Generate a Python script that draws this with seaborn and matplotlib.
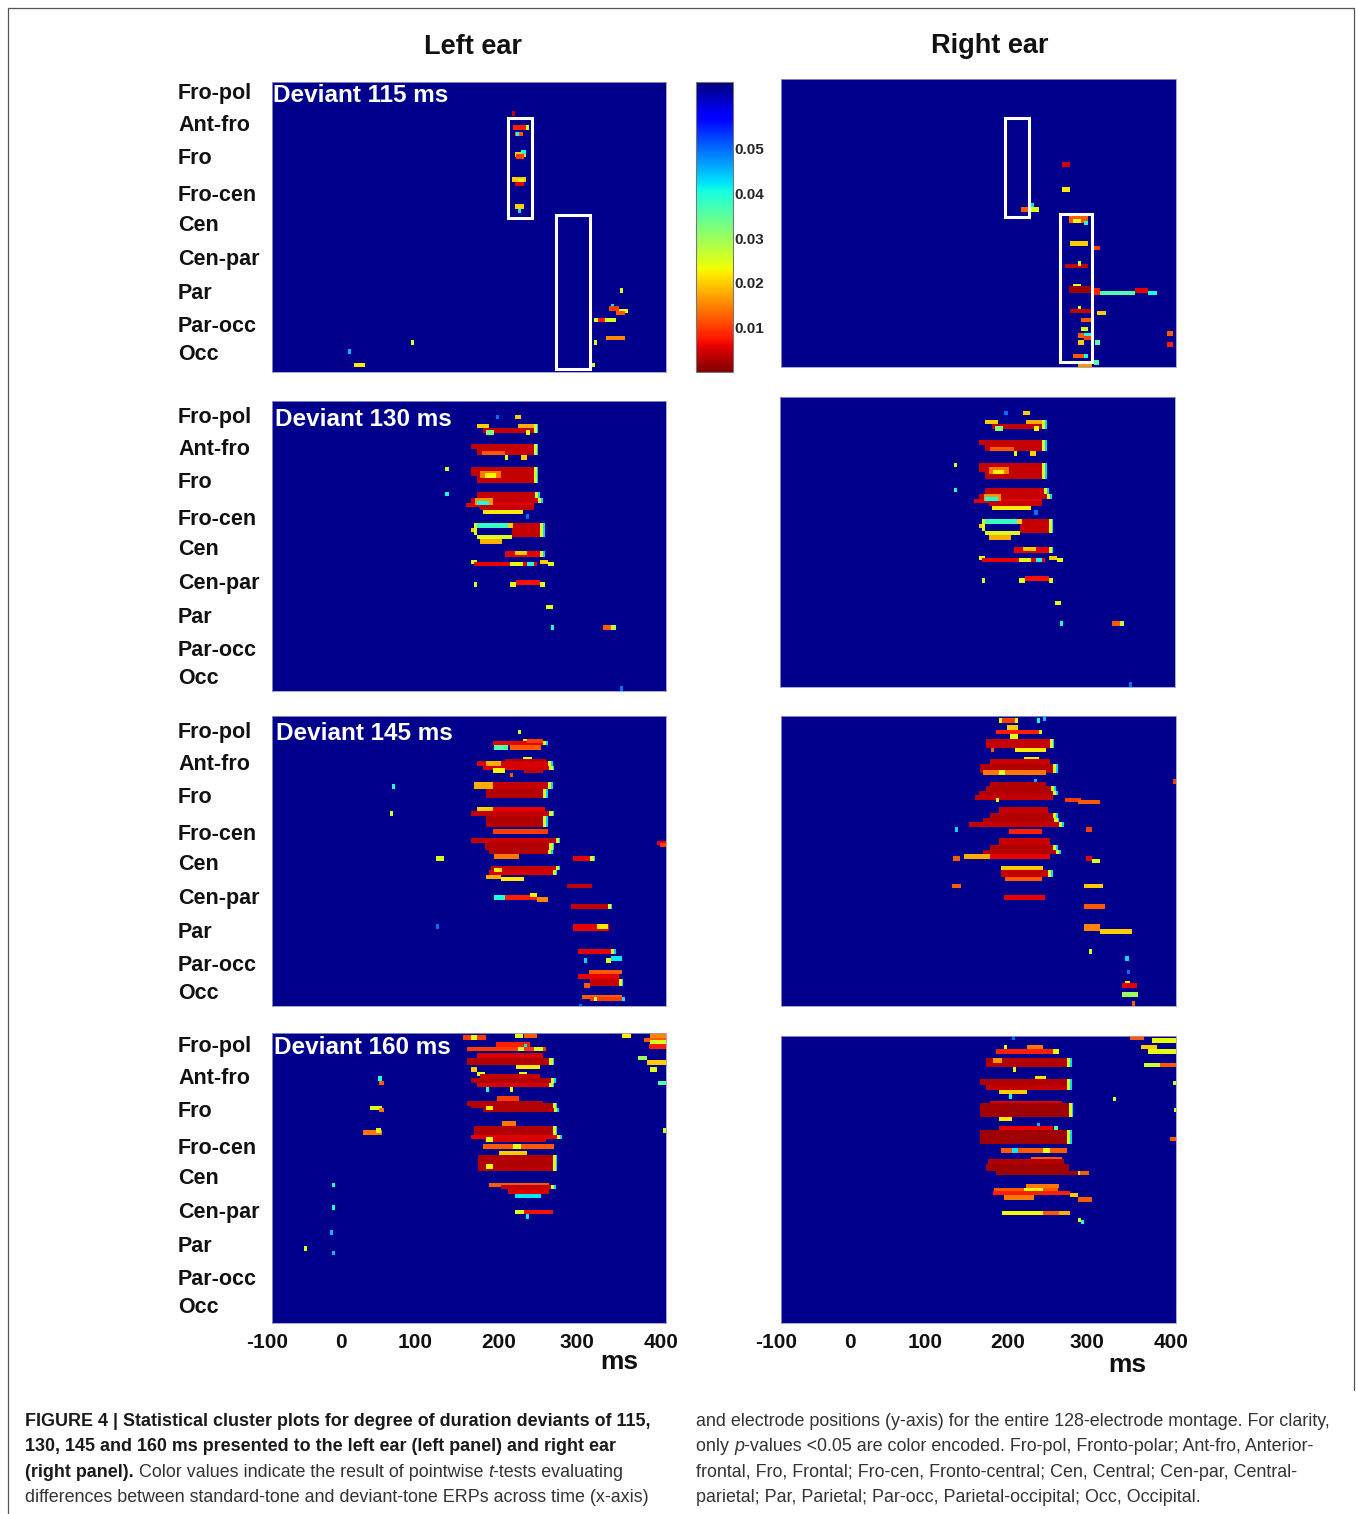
import numpy as np

# no display in here
import matplotlib
matplotlib.use('Agg')
import matplotlib.pyplot as plt
from matplotlib.lines import Line2D
from matplotlib.patches import Rectangle
from matplotlib.transforms import ScaledTranslation
import seaborn as sns

sns.set_style("white")
plt.rcParams['font.family'] = ['Liberation Sans', 'DejaVu Sans']

W, H = 1356, 1514
N_ROWS = 128
MS_START = -100
MS_STEP = 2
N_COLS = 250
P_NONE = 0.0642  # not significant, the dark blue background
P_MAX = 0.065

ELECTRODE_LABELS = ['Fro-pol', 'Ant-fro', 'Fro', 'Fro-cen', 'Cen', 'Cen-par', 'Par', 'Par-occ', 'Occ']
ELECTRODE_ROWS = [4, 18, 32.7, 49, 62.2, 77.2, 92.2, 106.8, 119.2]
TIME_TICKS = [-100, 0, 100, 200, 300, 400]
CBAR_TICKS = [0.01, 0.02, 0.03, 0.04, 0.05]

# significant clusters, later entries paint over earlier ones
# (first row, last row, start ms, end ms, p value[, True if the end has a yellow/cyan rim])
L115 = [
    (13, 14, 204, 207, .004), (19, 20.4, 206, 222, .008), (19, 20.4, 222, 225, .025),
    (21.5, 22.8, 207, 218, .012), (21.5, 22.3, 210, 214, .04),
    (31, 32.5, 208, 222, .02), (32.5, 34.5, 210, 220, .01), (30.5, 31.5, 216, 222, .04),
    (41.5, 43, 204, 222, .02), (43, 44.5, 212, 220, .025), (44.5, 46.5, 208, 220, .006),
    (54.5, 56, 209, 220, .02), (56, 56.8, 213, 216, .042),
    (91, 92, 342, 345, .025), (97.5, 98.5, 330, 334, .042), (99, 101, 328, 340, .01),
    (100, 101, 340, 351, .024), (101, 102.5, 336, 347, .012),
    (104, 105.3, 307, 335, .025), (104, 105.3, 314, 322, .008),
    (111.7, 113, 324, 348, .015), (114.5, 116, 309, 312, .025), (124, 125.2, 306, 309, .025),
    (117.5, 118.5, -3, -1, .045), (113.5, 115, 75, 77, .025), (124.5, 125.7, 5, 18, .022),
]
R115 = [
    (36.7, 38, 257, 266, .005), (48, 49.5, 256, 266, .022), (54.6, 55.6, 215, 220, .042),
    (57.4, 58.7, 203, 214, .012), (57.4, 58.7, 214, 226, .025),
    (61, 64, 264, 287, .012), (61.5, 63, 270, 280, .023), (63, 64, 283, 287, .04),
    (72.3, 73.7, 266, 287, .02), (74.2, 75.2, 296, 304, .01),
    (82.5, 84, 260, 289, .004), (81.2, 82.3, 275, 281, .025), (90.7, 92, 270, 279, .024),
    (92, 95, 264, 294, .002), (93.4, 95.7, 296, 304, .008), (93.7, 94.8, 304, 349, .036),
    (92.8, 95, 349, 365, .006), (93.8, 95, 365, 375, .04),
    (101.4, 102.4, 277, 281, .024), (102.3, 103.5, 266, 291, .004), (103.3, 104.4, 299, 311, .02),
    (106.5, 107.6, 280, 291, .012), (110.5, 111.7, 281, 289, .026),
    (113.4, 114.5, 275, 283, .012), (113.4, 114.5, 283, 291, .04), (116, 118, 275, 285, .02),
    (114.5, 116, 285, 293, .01), (115.8, 116.9, 298, 304, .036),
    (122, 123.6, 270, 285, .012), (122, 123.6, 285, 289, .04), (124.9, 126, 296, 302, .036),
    (126.4, 127.5, 275, 294, .016), (111.7, 112.8, 389, 395, .012), (116.8, 118, 389, 395, .008),
]
L130 = [
    (6, 7, 183, 185, .05), (6, 7, 207, 215, .02),
    (10, 11.5, 161, 176, .02), (10, 11.5, 213, 232, .018, True), (11.5, 14.5, 168, 231, .004, True),
    (13, 14.5, 172, 182, .032), (13, 14.5, 222, 228, .023),
    (18.7, 21, 151, 232, .004, True), (21, 24.5, 160, 232, .004, True), (21.5, 24, 166, 195, .012),
    (23.5, 24.5, 195, 201, .024), (23.5, 24.5, 215, 225, .02),
    (28.7, 33, 151, 233, .004, True), (33, 36, 161, 232, .004, True), (31, 34, 165, 190, .014),
    (32, 33.5, 170, 185, .023), (29, 30, 119, 121, .025), (40.5, 41.5, 119, 121, .04),
    (40.4, 43, 161, 234, .004, True), (43, 45, 151, 238, .004, True), (45, 46, 146, 232, .006),
    (46, 47.3, 165, 232, .004), (43, 46, 158, 180, .016), (44, 45.5, 160, 175, .04),
    (47.5, 48.5, 168, 218, .022), (50, 51, 222, 224, .05),
    (53.7, 60, 205, 240, .004, True), (53.7, 54.7, 158, 200, .038), (59, 60.2, 160, 205, .025),
    (54, 59, 155, 161, .025), (56, 58, 152, 156, .02), (54, 56, 200, 206, .02), (60.8, 61.8, 164, 192, .018),
    (66, 68.6, 195, 239, .006, True), (66.5, 68.5, 208, 225, .02),
    (69.5, 70.7, 153, 161, .025), (71, 72.2, 155, 235, .006),
    (71, 72.2, 202, 218, .024), (71, 72.2, 225, 231, .04), (69.5, 70.5, 240, 245, .02),
    (70.5, 71.5, 245, 250, .02), (71, 72, 250, 258, .024),
    (79.5, 80.7, 202, 210, .024), (79, 80, 210, 240, .007), (79.5, 80.7, 240, 246, .025),
    (80, 81, 156, 158, .025), (90, 91, 249, 256, .024), (99.3, 100.4, 254, 256, .04),
    (99.3, 100.4, 319, 330, .012), (99.3, 100.4, 330, 335, .028), (126.5, 127.5, 342, 344, .05),
]
# the right ear panel for 130 ms shows the same clusters as the left one
R130 = L130
L145 = [
    (6, 7, 212, 216, .025), (9.6, 10.6, 218, 231, .022),
    (11, 13, 180, 244, .006, True), (10, 11, 224, 244, .01), (13, 14.5, 202, 242, .012),
    (13, 14.5, 182, 201, .036), (17.7, 18.8, 218, 230, .024),
    (19, 20.5, 197, 248, .003), (20.5, 22, 161, 250, .005, True), (22, 23, 168, 252, .005, True),
    (23, 25, 180, 195, .023), (23, 25, 220, 244, .004), (20.5, 22, 172, 190, .018), (25, 26, 202, 205, .012),
    (28.7, 32, 156, 250, .004, True), (32, 36, 172, 245, .003, True), (29, 32, 157, 180, .018),
    (40.5, 42, 161, 246, .006), (42, 44, 153, 252, .004, True), (44, 49, 172, 245, .003, True),
    (40.5, 42, 161, 180, .02), (49.8, 50.8, 180, 250, .01),
    (54, 56.5, 153, 259, .004, True), (56.5, 59, 170, 253, .003, True), (59, 60.5, 175, 250, .003, True),
    (61.1, 62.2, 182, 214, .014), (54.8, 56, 387, 400, .006), (56.5, 58, 393, 400, .01),
    (62, 64, 282, 305, .006, True), (66.2, 68.5, 178, 260, .004, True), (68.5, 70, 175, 255, .005, True),
    (70, 71.3, 173, 190, .018), (67, 68.2, 182, 191, .022), (71.4, 72.5, 190, 220, .022),
    (73.5, 74.7, 274, 306, .004), (79, 80, 182, 195, .04), (79, 80, 195, 235, .008),
    (77.7, 78.8, 227, 236, .023), (79.5, 80.7, 235, 250, .015), (83, 84.2, 280, 326, .004, True),
    (92.2, 95, 282, 328, .006), (92.5, 94.5, 311, 326, .022),
    (102.6, 103.8, 289, 330, .006, True), (105.6, 106.7, 330, 344, .042), (107, 108, 295, 298, .043),
    (107, 108, 323, 330, .025), (112.5, 113.5, 302, 345, .012), (114, 115, 289, 340, .006),
    (116.4, 119, 305, 341, .004, True), (118, 119, 296, 305, .012),
    (123.2, 124.4, 294, 345, .012), (124.5, 125.6, 305, 345, .01), (124.5, 125.6, 307, 312, .025),
    (124.5, 125.6, 345, 349, .042), (126.8, 127.8, 290, 292, .05),
    (29.5, 30.5, 52, 55, .04), (42, 43, 50, 54, .025), (62.3, 63.3, 108, 118, .025), (92.2, 93.2, 107, 109, .05),
]
R145 = [
    (0.8, 1.9, 175, 180, .025), (0.8, 1.9, 180, 196, .01), (0.8, 1.9, 196, 201, .025),
    (1, 2.8, 225, 227, .04), (0, 1, 231, 233, .045), (4.2, 5.3, 186, 199, .02),
    (5.8, 6.9, 171, 226, .008), (5.8, 6.9, 226, 230, .025), (8.2, 9.3, 190, 201, .024),
    (9.5, 14, 159, 240, .004, True), (14, 15.1, 196, 236, .022), (14, 15, 166, 170, .012),
    (17.7, 18.8, 209, 226, .022), (19, 21, 165, 240, .004), (21, 25, 153, 244, .003, True),
    (24.5, 25.7, 155, 235, .014), (24.5, 25.7, 175, 184, .024), (28, 29, 221, 223, .045),
    (28.7, 31, 165, 235, .003), (31, 33, 160, 242, .003, True), (33, 35, 150, 245, .003, True),
    (35, 36, 146, 244, .004), (36.3, 37.4, 171, 174, .025), (36.3, 37.4, 261, 279, .01),
    (37.3, 38.4, 275, 304, .012), (40.4, 43, 175, 238, .004), (43, 45, 165, 244, .003, True),
    (45, 47, 155, 246, .003, True), (47, 48.5, 138, 252, .004, True), (48.6, 49.7, 121, 124, .043),
    (49.8, 50.9, 189, 230, .008), (48.6, 49.7, 286, 294, .01),
    (54, 57, 175, 240, .004), (57, 59, 165, 245, .003, True), (59, 61, 155, 247, .003, True),
    (61.1, 62.2, 132, 165, .018), (61.1, 62.2, 165, 241, .006), (62, 63.1, 118, 126, .012),
    (62, 64.2, 286, 294, .006), (63, 64.1, 294, 305, .025), (66.2, 68, 178, 232, .02),
    (68, 71, 178, 238, .004, True), (71, 72.5, 185, 230, .012), (73.5, 74.6, 116, 127, .012),
    (73.5, 74.6, 284, 308, .02), (78.9, 80, 182, 234, .006), (83, 84.1, 285, 310, .012),
    (92.5, 95, 285, 304, .015), (94.3, 95.4, 304, 345, .02), (102.7, 103.8, 290, 292, .025),
    (105.6, 106.7, 336, 338, .043), (112, 113, 338, 340, .05), (116.8, 118, 335, 342, .024),
    (118, 119.3, 333, 350, .006), (122.3, 123.4, 333, 353, .03), (125.5, 126.6, 345, 348, .012),
    (28.5, 29.6, 397, 400, .01),
]
L160 = [
    (0.8, 1.9, 142, 171, .01), (0.8, 1.9, 153, 159, .024), (0, 1, 208, 218, .025), (0.5, 1.6, 220, 236, .012),
    (3.8, 4.9, 185, 227, .008), (4.8, 5.9, 220, 222, .042), (6.2, 7.4, 147, 248, .01),
    (6.2, 7.4, 212, 220, .024), (6.2, 7.4, 233, 244, .024),
    (9.3, 11, 160, 245, .005), (11, 14.1, 147, 252, .003, True), (14.1, 15.2, 210, 240, .022),
    (15, 16.1, 151, 161, .02), (17.3, 18.4, 161, 170, .024), (17.3, 18.4, 214, 225, .024),
    (18.2, 20, 165, 240, .004), (20, 22.5, 151, 254, .003, True), (22.5, 24, 160, 252, .005, True),
    (23.6, 24.7, 171, 173, .04), (24.3, 25.4, 202, 205, .024),
    (28, 29.5, 186, 214, .01), (29.5, 31, 147, 245, .003), (31, 33, 152, 255, .003, True),
    (33, 35.4, 168, 258, .003, True), (32.4, 34.5, 172, 180, .022),
    (39, 40.2, 193, 210, .014), (41, 45, 157, 256, .003, True), (45, 46.5, 153, 262, .006, True),
    (46.5, 48.5, 170, 248, .005), (46.5, 47.6, 172, 180, .024), (49.3, 50.4, 167, 258, .012),
    (49.3, 50.4, 206, 216, .024), (52.5, 53.6, 187, 225, .02), (54.2, 60.7, 162, 256, .003, True),
    (58.2, 60.5, 171, 180, .023), (66, 67, 177, 252, .012), (67, 69, 190, 254, .004, True),
    (69, 70.7, 200, 252, .005), (71, 72.1, 207, 242, .042),
    (77.5, 78.6, 207, 220, .025), (78.5, 79.6, 220, 256, .007), (79.6, 80.6, 222, 224, .042),
    (19.3, 21, 34, 40, .04), (21, 23.3, 36, 42, .012), (31.8, 33, 23, 40, .025), (33, 34, 36, 42, .014),
    (43.3, 45, 16, 39, .014), (42.5, 43.5, 31, 38, .025),
    (65.8, 66.8, -23, -20, .04), (75.8, 76.8, -25, -23, .04), (87, 88, -26, -24, .045),
    (96.2, 97.2, -24, -22, .045), (94, 95, -59, -57, .025),
    (0, 1, 345, 356, .022), (0, 1, 380, 400, .015), (1.5, 2.5, 372, 400, .012), (3, 4, 380, 400, .025),
    (5, 6.3, 378, 400, .008), (10.5, 11.5, 364, 375, .03), (12, 13, 375, 400, .02),
    (15, 16.1, 380, 387, .025), (21, 22.5, 390, 400, .036), (42, 43.1, 396, 400, .025),
]
R160 = [
    (0, 1, 193, 195, .05), (6.2, 7.7, 172, 244, .008), (6.2, 7.7, 244, 251, .024), (4.5, 5.6, 182, 186, .024),
    (3.9, 5, 211, 232, .014), (10.1, 14, 159, 262, .003, True), (9.6, 10.6, 168, 181, .016),
    (13.8, 15.2, 194, 198, .023), (17.9, 19, 222, 237, .022), (19, 22, 152, 262, .003, True),
    (22, 24, 160, 262, .004, True), (24.3, 25.4, 175, 211, .02), (25.8, 26.8, 187, 189, .04),
    (29, 30.5, 165, 255, .005), (30.5, 36, 151, 264, .002, True), (36.3, 37.4, 175, 192, .022),
    (27, 28, 321, 325, .025), (39.2, 40.2, 223, 225, .045), (40.2, 41.2, 246, 248, .035),
    (40.4, 42, 175, 245, .006), (42, 48, 153, 262, .002, True), (49.5, 50.6, 178, 262, .012),
    (49.5, 50.6, 192, 200, .042), (49.5, 50.6, 232, 241, .024),
    (53.6, 55, 215, 255, .012), (55, 57, 162, 258, .003), (57, 59.5, 160, 265, .002),
    (59.5, 61.7, 172, 275, .002, True), (60.5, 61.7, 278, 290, .012),
    (66, 67, 210, 252, .014), (67.5, 68.5, 170, 250, .012), (67.5, 68.5, 207, 232, .024),
    (69.3, 70.4, 169, 266, .008), (71.3, 72.4, 182, 220, .014), (70.5, 71.5, 266, 275, .02),
    (72, 73, 275, 294, .012), (78.5, 79.6, 180, 232, .023), (78.5, 79.6, 232, 266, .018),
    (77.6, 78.7, 232, 251, .012),
    (80.6, 81.6, 276, 278, .025), (81.7, 82.8, 280, 282, .04),
    (0.5, 1.5, 342, 360, .012), (1.3, 2.4, 370, 400, .024), (3.9, 5, 357, 376, .02),
    (5.7, 6.8, 365, 400, .024), (11.5, 12.6, 359, 380, .026), (11.5, 12.6, 380, 400, .012),
    (20.4, 21.5, 397, 400, .025), (32, 33.1, 398, 400, .025), (45.4, 46.5, 393, 400, .012),
]

# white boxes: start ms, end ms, first row, last row
L115_BOXES = [(199, 230, 15.9, 60), (261, 303, 58.7, 126.7)]
R115_BOXES = [(184, 214, 17.2, 61.3), (253.5, 294, 60, 125.8)]


def px_rect(left, top, right, bottom):
    return [left / W, 1 - bottom / H, (right - left) / W, (bottom - top) / H]


def t_to_col(t):
    return (t - MS_START) / MS_STEP


def build_matrix(spans):
    m = np.full((N_ROWS, N_COLS), P_NONE)
    for r0, r1, t0, t1, p, *rim in spans:
        a = int(round(r0))
        # the thin lines and dots are about two cells wide in the picture
        b = max(int(round(r1)), a + 2)
        c0 = int(round(t_to_col(t0)))
        c1 = max(int(round(t_to_col(t1))), c0 + 2)
        m[a:b, c0:c1] = p
        if rim:
            m[a:b, c1:c1 + 2] = 0.025
            m[a:b, c1 + 2:c1 + 3] = 0.043
    return m


def draw_run(fig, x, y, parts, fontsize):
    # put pieces of one caption line next to each other (bold + normal + italic)
    rend = fig.canvas.get_renderer()
    for s, weight, style in parts:
        t = fig.text(x / W, 1 - y / H, s, fontsize=fontsize, fontweight=weight, fontstyle=style,
                     color='#333333' if weight == 'normal' else '#1a1a1a', va='center', ha='left')
        x = t.get_window_extent(rend).x1


def plot_clusters():
    fig = plt.figure(figsize=(W / 100, H / 100), dpi=100)
    cmap = 'jet_r'

    # left and right column, top to bottom
    panels = [
        (L115, (272, 82, 666, 372), 'Deviant 115 ms', (273, 95), 0, L115_BOXES),
        (L130, (272, 401, 666, 691), 'Deviant 130 ms', (275, 419), 2.2, None),
        (L145, (272, 716, 666, 1006), 'Deviant 145 ms', (276, 734), 2.2, None),
        (L160, (272, 1033, 666, 1323), 'Deviant 160 ms', (274, 1047), 0.9, None),
        (R115, (781, 79, 1176, 367), None, None, None, R115_BOXES),
        (R130, (780, 397, 1175, 687), None, None, None, None),
        (R145, (781, 716, 1176, 1006), None, None, None, None),
        (R160, (781, 1036, 1176, 1323), None, None, None, None),
    ]
    for i, (spans, box, title, title_xy, row_shift, boxes) in enumerate(panels):
        ax = fig.add_axes(px_rect(*box))
        m = build_matrix(spans)
        sns.heatmap(m, ax=ax, cmap=cmap, vmin=0, vmax=P_MAX, cbar=False, xticklabels=False, yticklabels=False)
        for sp in ax.spines.values():
            sp.set_visible(True)
            sp.set_linewidth(0.6)
            sp.set_color('#9a9ac8')

        if row_shift is not None:
            ax.set_yticks([r + row_shift for r in ELECTRODE_ROWS])
            ax.set_yticklabels(ELECTRODE_LABELS, rotation=0, ha='left', fontsize=15.5, fontweight='bold', color='#111111')
            ax.tick_params(axis='y', length=0, pad=94 * 0.72)
        else:
            ax.set_yticks([])

        if title:
            fig.text(title_xy[0] / W, 1 - title_xy[1] / H, title, color='white', fontsize=17.5,
                     fontweight='bold', va='center', ha='left')

        if boxes:
            for t0, t1, r0, r1 in boxes:
                ax.add_patch(Rectangle((t_to_col(t0), r0), t_to_col(t1) - t_to_col(t0), r1 - r0,
                                       fill=False, edgecolor='white', linewidth=2.2, zorder=5))

        # only the bottom row has a time axis, its hand placed labels sit left of the true position
        if box[3] == 1323:
            ax.set_xticks([t_to_col(t) for t in TIME_TICKS])
            ax.set_xticklabels(TIME_TICKS, rotation=0, fontsize=15, fontweight='bold', color='#111111')
            ax.tick_params(axis='x', length=0, pad=7)
            for lab, dx in zip(ax.get_xticklabels(), [-5, -10, -14, -10, -10, -5]):
                lab.set_transform(lab.get_transform() + ScaledTranslation(dx / 100, 0, fig.dpi_scale_trans))
        else:
            ax.set_xticks([])

    # shared p value colorbar, drawn through a heatmap on an empty data range
    cax = fig.add_axes(px_rect(696, 82, 733, 372))
    dummy = fig.add_axes([0, 0, 0.001, 0.001])
    dummy.set_visible(False)
    sns.heatmap(np.full((2, 2), P_NONE), ax=dummy, cbar_ax=cax, cmap=cmap, vmin=0, vmax=P_MAX,
                xticklabels=False, yticklabels=False)
    cb = dummy.collections[0].colorbar
    cb.set_ticks(CBAR_TICKS)
    cb.set_ticklabels(['%.2f' % v for v in CBAR_TICKS])
    cb.outline.set_visible(True)
    cb.outline.set_edgecolor('#777777')
    cb.outline.set_linewidth(0.8)
    cax.tick_params(axis='y', direction='in', length=2, width=0.6, pad=1, labelsize=11, color='#555555')
    for lab in cax.get_yticklabels():
        lab.set_fontweight('bold')

    # column titles and unit labels
    fig.text(473 / W, 1 - 47 / H, 'Left ear', fontsize=19.5, fontweight='bold', ha='center', va='center', color='#111111')
    fig.text(990 / W, 1 - 46 / H, 'Right ear', fontsize=19.5, fontweight='bold', ha='center', va='center', color='#111111')
    fig.text(619 / W, 1 - 1362 / H, 'ms', fontsize=19, fontweight='bold', ha='center', va='center', color='#111111')
    fig.text(1127 / W, 1 - 1365 / H, 'ms', fontsize=19, fontweight='bold', ha='center', va='center', color='#111111')

    # figure frame, open at the bottom
    fig.add_artist(Line2D([8 / W, 8 / W, 1354 / W, 1354 / W], [0, 1 - 8 / H, 1 - 8 / H, 1 - 1390 / H],
                          color='#555555', linewidth=0.9))

    # caption
    size = 12.9
    b, n, it = ('bold', 'normal'), ('normal', 'normal'), ('normal', 'italic')
    draw_run(fig, 25, 1421.5, [('FIGURE 4 | Statistical cluster plots for degree of duration deviants of 115,', *b)], size)
    draw_run(fig, 25, 1446.5, [('130, 145 and 160 ms presented to the left ear (left panel) and right ear', *b)], size)
    draw_run(fig, 25, 1472.5, [('(right panel). ', *b), ('Color values indicate the result of pointwise ', *n),
                               ('t', *it), ('-tests evaluating', *n)], size)
    draw_run(fig, 25, 1497.5, [('differences between standard-tone and deviant-tone ERPs across time (x-axis)', *n)], size)
    draw_run(fig, 696, 1421.5, [('and electrode positions (y-axis) for the entire 128-electrode montage. For clarity,', *n)], size)
    draw_run(fig, 696, 1446.5, [('only ', *n), ('p', *it), ('-values <0.05 are color encoded. Fro-pol, Fronto-polar; Ant-fro, Anterior-', *n)], size)
    draw_run(fig, 696, 1472.5, [('frontal, Fro, Frontal; Fro-cen, Fronto-central; Cen, Central; Cen-par, Central-', *n)], size)
    draw_run(fig, 696, 1497.5, [('parietal; Par, Parietal; Par-occ, Parietal-occipital; Occ, Occipital.', *n)], size)

    fig.savefig('out.png', dpi=100)
    plt.close(fig)


if __name__ == '__main__':
    plot_clusters()
